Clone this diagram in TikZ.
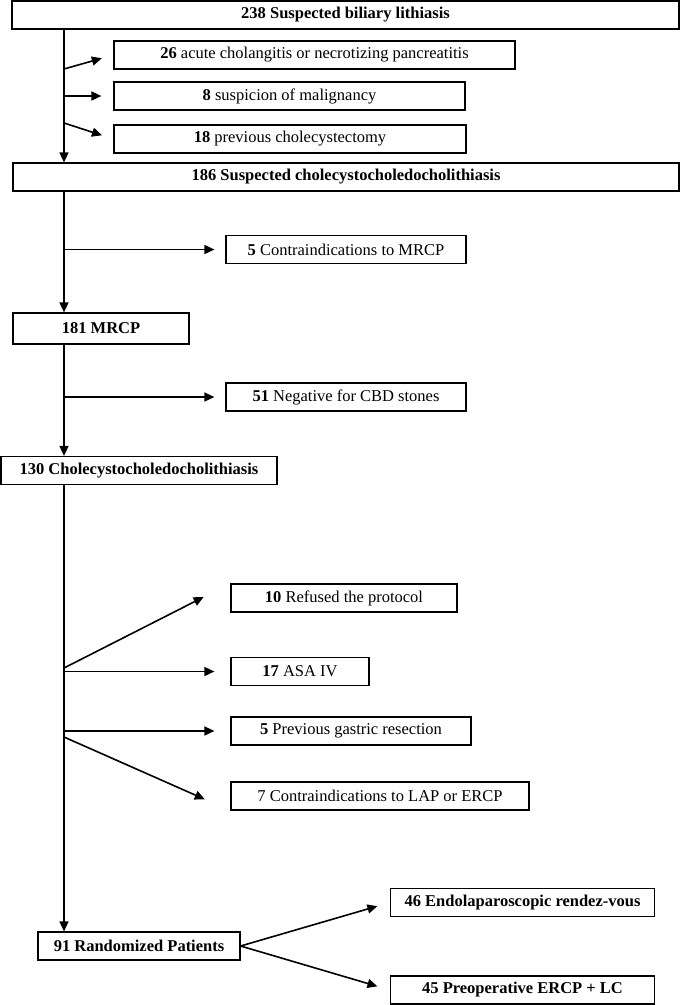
\documentclass[tikz,border=0pt]{standalone}
\usepackage{fontspec}
\setmainfont{Liberation Serif}
\usetikzlibrary{arrows.meta}

\begin{document}
\begin{tikzpicture}[x=1pt, y=-1pt,
    box/.style={draw, line width=1.2pt, minimum height=28pt, inner sep=0pt,
      font=\fontsize{16.5}{19}\selectfont},
    main/.style={box, font=\fontsize{16.5}{19}\selectfont\bfseries},
    arr/.style={line width=1.6pt, -{Triangle[length=10pt, width=9pt]}}]
  \useasboundingbox (0,0) rectangle (680,1005);
  % main flow
  \node[main, minimum width=667pt] (biliary) at (345.5,15) {238 Suspected biliary lithiasis};
  \node[main, minimum width=666pt] (suspected) at (346,177) {186 Suspected cholecystocholedocholithiasis};
  \node[main, minimum width=176pt, minimum height=31pt] (mrcp) at (101,328.5) {181 MRCP};
  \node[main, minimum width=276pt] (chole) at (139,470.5) {130 Cholecystocholedocholithiasis};
  \node[main, minimum width=202pt] (random) at (139,946) {91 Randomized Patients};
  \node[main, minimum width=264pt] (endo) at (522.5,902.5) {46 Endolaparoscopic rendez-vous};
  \node[main, minimum width=264pt] (ercp) at (522.5,990) {45 Preoperative ERCP + LC};
  % excluded
  \node[box, minimum width=401pt] (acute) at (314.5,55) {\textbf{26} acute cholangitis or necrotizing pancreatitis};
  \node[box, minimum width=351pt] (malign) at (289.5,96) {\textbf{8} suspicion of malignancy};
  \node[box, minimum width=352pt] (cholecyst) at (290,139) {\textbf{18} previous cholecystectomy};
  \node[box, minimum width=240pt] (contra) at (346,249.5) {\textbf{5} Contraindications to MRCP};
  \node[box, minimum width=240pt] (negative) at (346,397) {\textbf{51} Negative for CBD stones};
  \node[box, minimum width=226pt] (refused) at (344,598) {\textbf{10} Refused the protocol};
  \node[box, minimum width=138pt] (asa) at (300,671.5) {\textbf{17} ASA IV};
  \node[box, minimum width=240pt] (gastric) at (351,731) {\textbf{5} Previous gastric resection};
  \node[box, minimum width=298pt] (lap) at (380,796) {7 Contraindications to LAP or ERCP};
  % branch points on the trunk
  \coordinate (trunk) at (64,0);
  \coordinate (t1) at (64,69);
  \coordinate (t3) at (64,123);
  \coordinate (t6) at (64,668);
  \coordinate (t9) at (64,737);
  \draw[arr] (biliary.south -| trunk) -- (suspected.north -| trunk);
  \draw[arr] (suspected.south -| trunk) -- (mrcp.north -| trunk);
  \draw[arr] (mrcp.south -| trunk) -- (chole.north -| trunk);
  \draw[arr] (chole.south -| trunk) -- (random.north -| trunk);
  \draw[arr, shorten >=12pt] (t1) -- (acute.west);
  \draw[arr, shorten >=12pt] (trunk |- malign.west) -- (malign.west);
  \draw[arr, shorten >=12pt] (t3) -- (cholecyst.west);
  \draw[arr, shorten >=11pt] (trunk |- contra.west) -- (contra.west);
  \draw[arr, shorten >=11pt] (trunk |- negative.west) -- (negative.west);
  \draw[arr, shorten >=30pt] (t6) -- (refused.north west);
  \draw[arr, shorten >=16pt] (trunk |- asa.west) -- (asa.west);
  \draw[arr, shorten >=16pt] (trunk |- gastric.west) -- (gastric.west);
  \draw[arr, shorten >=28pt] (t9) -- (lap.south west);
  \draw[arr, shorten >=13pt] (random.east) -- (endo.west);
  \draw[arr, shorten >=13pt] (random.east) -- (ercp.west);
\end{tikzpicture}
\end{document}
